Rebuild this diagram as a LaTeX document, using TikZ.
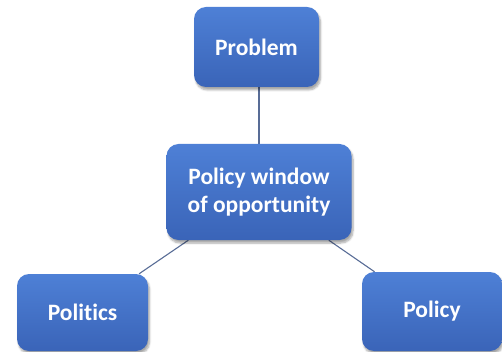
\documentclass[tikz,border=0pt]{standalone}
\usepackage{fontspec}
\setmainfont{Carlito}[Ligatures={NoCommon,NoRare}]
\usetikzlibrary{shadows.blur,backgrounds}
\definecolor{boxtop}{RGB}{78,128,214}
\definecolor{boxbottom}{RGB}{58,100,184}
\definecolor{linkcol}{RGB}{88,108,150}
\tikzset{
  bluebox/.style={rectangle, rounded corners=12pt, draw=none,
    top color=boxtop, bottom color=boxbottom,
    text=white, font=\bfseries\fontsize{23.5}{28}\selectfont, align=center,
    inner sep=0pt,
    blur shadow={shadow xshift=1.5pt, shadow yshift=-3pt, shadow opacity=35, shadow blur steps=6}},
  link/.style={draw=linkcol, line width=1.1pt}
}
\begin{document}
\begin{tikzpicture}[x=1pt,y=-1pt]
  \useasboundingbox (0,0) rectangle (502,352);
  \node[bluebox, minimum width=125pt, minimum height=80pt] (problem) at (256.5,47) {Problem};
  \node[bluebox, minimum width=185pt, minimum height=96pt] (window) at (259,192) {Policy window\\of opportunity};
  \node[bluebox, minimum width=131pt, minimum height=77pt] (politics) at (82.5,312.5) {Politics};
  \node[bluebox, minimum width=140pt, minimum height=79pt] (policy) at (432,311.5) {Policy};
  \begin{scope}[on background layer]
    \draw[link] (window.north) -- (window.north |- problem.south);
    \draw[link] (window) -- (politics);
    \draw[link] (window) -- (policy);
  \end{scope}
\end{tikzpicture}
\end{document}
